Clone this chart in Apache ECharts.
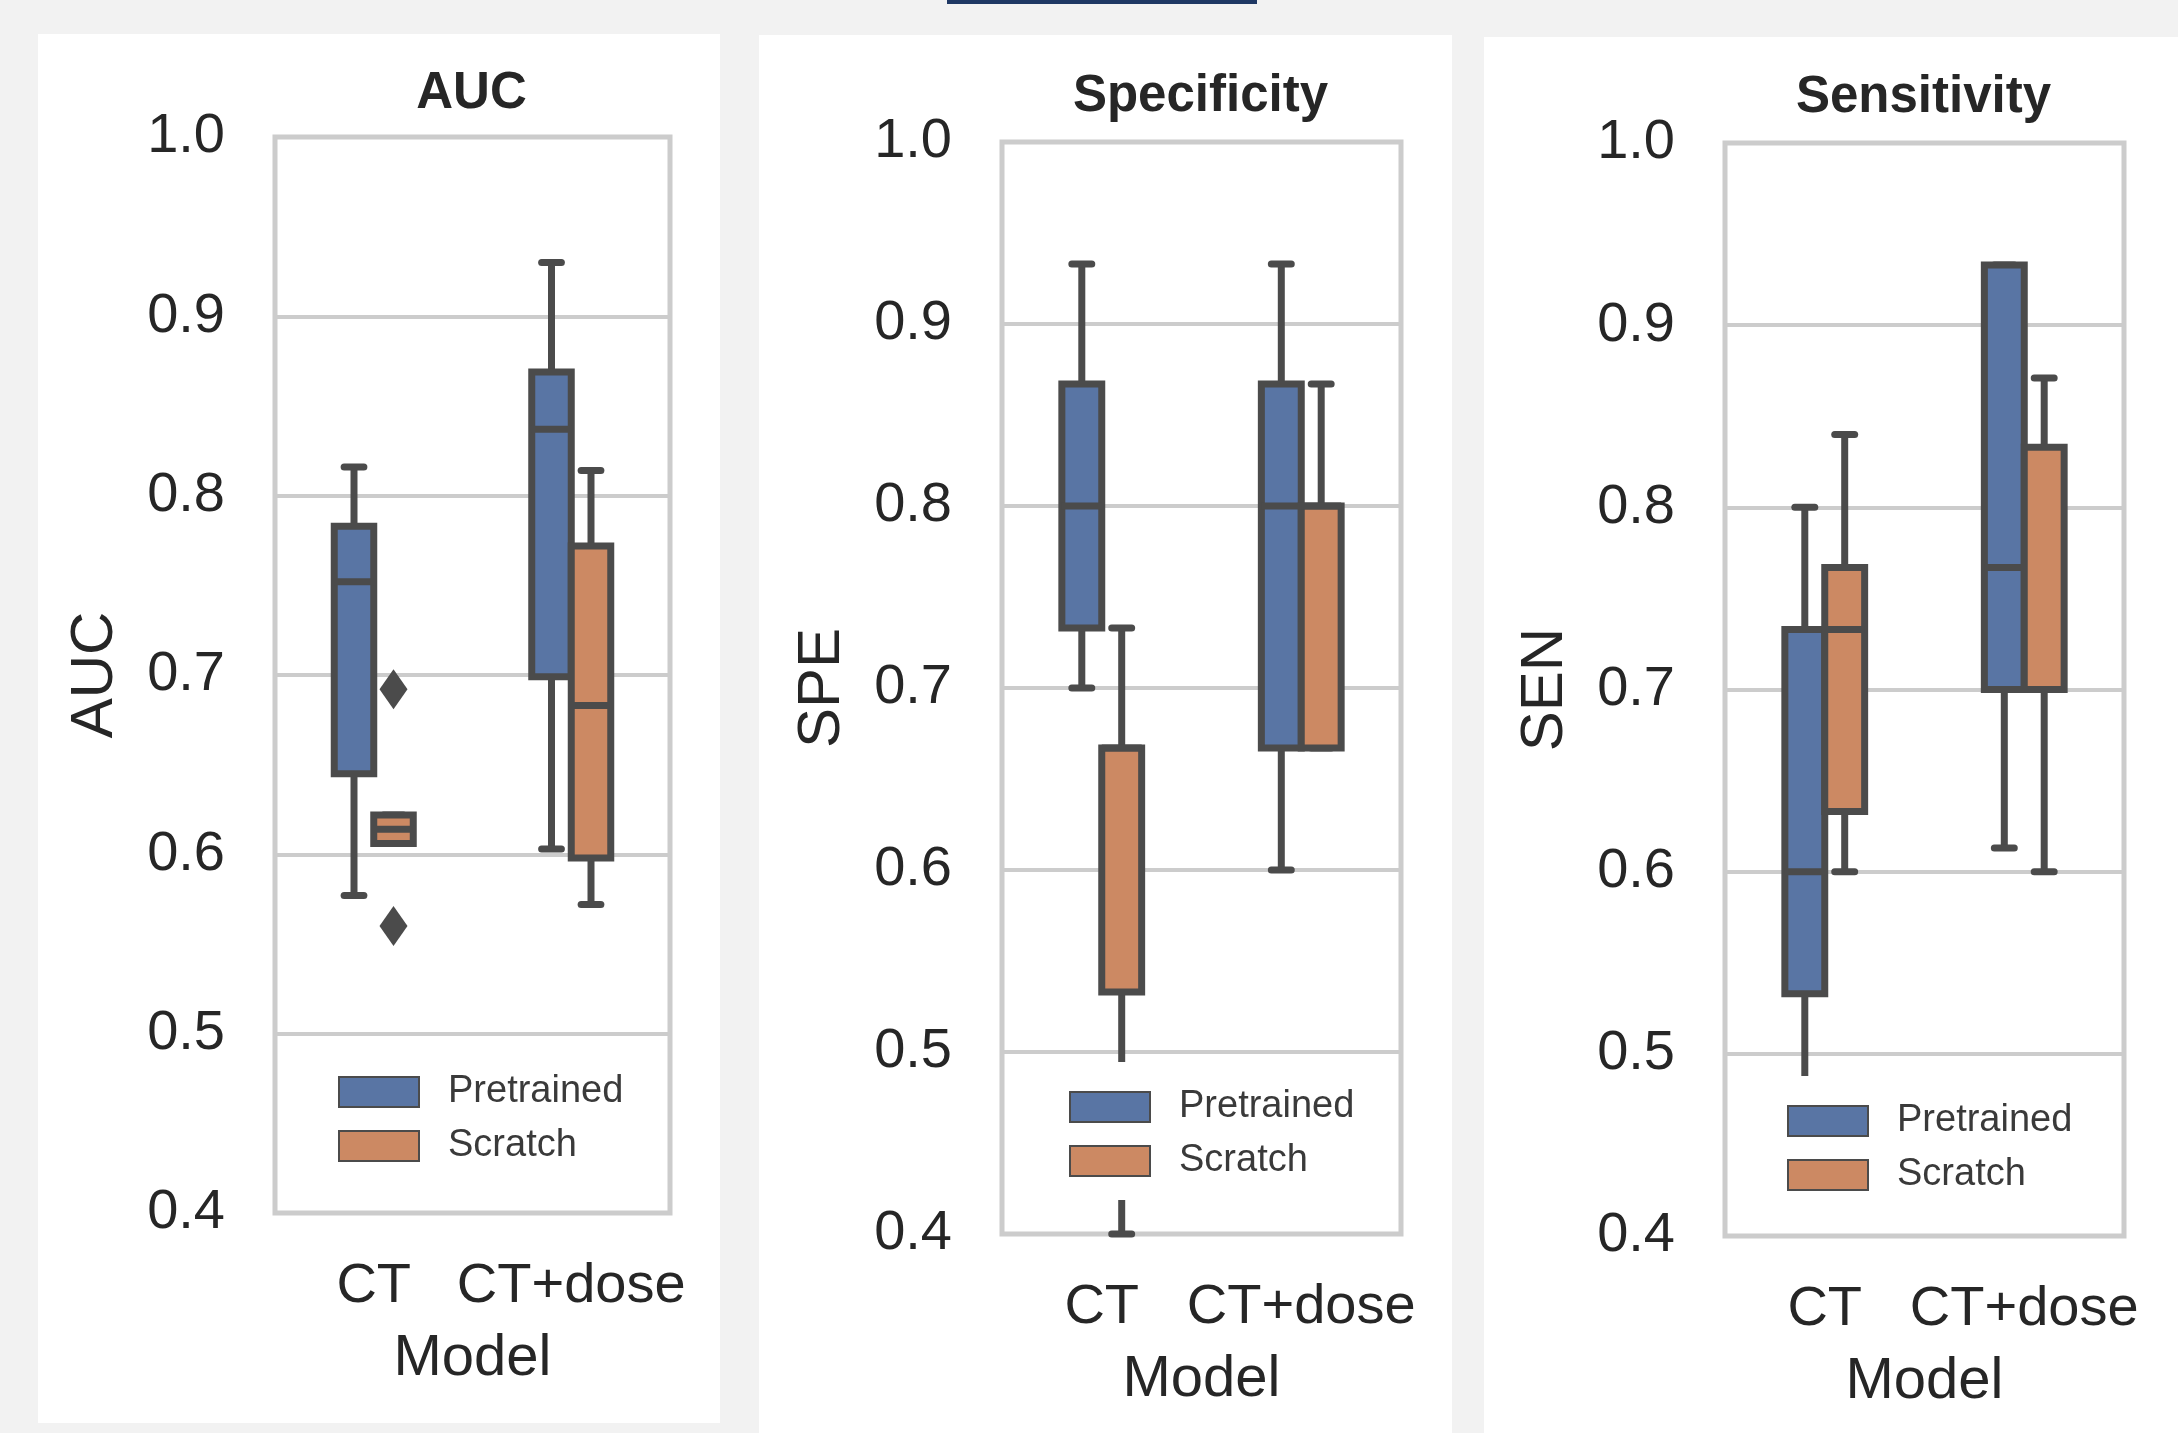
<!DOCTYPE html>
<html>
<head>
<meta charset="utf-8">
<title>Pretrained vs Scratch</title>
<script src="https://cdn.jsdelivr.net/npm/echarts@6/dist/echarts.min.js"></script>
<style>
  html, body { margin: 0; padding: 0; background: #f2f2f2; }
  #chart { width: 2178px; height: 1433px; }
</style>
</head>
<body>
<div id="chart"></div>
<script>
const categories = ['CT', 'CT+dose'];
const seriesNames = ['Pretrained', 'Scratch'];

// one row per category: [low whisker, q1, median, q3, high whisker]
const aucPretrained = [[0.577, 0.645, 0.752, 0.783, 0.816], [0.603, 0.699, 0.837, 0.869, 0.930]];
const aucScratch = [[0.606, 0.606, 0.614, 0.622, 0.622], [0.572, 0.598, 0.683, 0.772, 0.814]];
const aucScratchOutliers = [[0, 0.692], [0, 0.560]]; // [category index, value]

const spePretrained = [[0.700, 0.733, 0.800, 0.867, 0.933], [0.600, 0.667, 0.800, 0.867, 0.933]];
const speScratch = [[0.400, 0.533, 0.667, 0.667, 0.733], [0.667, 0.667, 0.800, 0.800, 0.867]];

const senPretrained = [[0.467, 0.533, 0.600, 0.733, 0.800], [0.613, 0.700, 0.767, 0.933, 0.933]];
const senScratch = [[0.600, 0.633, 0.733, 0.767, 0.840], [0.600, 0.700, 0.700, 0.833, 0.871]];

const yMin = 0.4, yMax = 1.0, yStep = 0.1;

const FONT = '"Liberation Sans", Arial, Helvetica, sans-serif';
const TEXT = '#262626';
const LINE = '#4b4b4b';
const BLUE = '#5975a4';
const ORANGE = '#cc8963';

const panels = [
  { title: 'AUC', yName: 'AUC', grid: [275, 137, 395, 1076], titleTop: 63, legend: [318, 1047],
    card: [38, 34, 682, 1389], pre: aucPretrained, scr: aucScratch, out: aucScratchOutliers },
  { title: 'Specificity', yName: 'SPE', grid: [1002, 142, 399, 1092], titleTop: 66, legend: [1049, 1062],
    card: [759, 35, 693, 1398], pre: spePretrained, scr: speScratch, out: [] },
  { title: 'Sensitivity', yName: 'SEN', grid: [1725, 143, 399, 1093], titleTop: 67, legend: [1767, 1076],
    card: [1484, 37, 694, 1396], pre: senPretrained, scr: senScratch, out: [] }
];

function renderBox(offset, fill) {
  return function (params, api) {
    const cat = api.value(0);
    const band = api.size([1, 0])[0];
    const cx = api.coord([cat, api.value(3)])[0] + band * offset;
    const y = (d) => api.coord([cat, api.value(d)])[1];
    const yLow = y(1), yQ1 = y(2), yMed = y(3), yQ3 = y(4), yHigh = y(5);
    const halfBox = band * 0.1;
    const halfCap = halfBox / 2;
    const stroke = { stroke: LINE, lineWidth: 7 };
    const cap = { stroke: LINE, lineWidth: 7, lineCap: 'round' };
    return {
      type: 'group',
      children: [
        { type: 'line', shape: { x1: cx, y1: yQ1, x2: cx, y2: yLow }, style: stroke },
        { type: 'line', shape: { x1: cx, y1: yQ3, x2: cx, y2: yHigh }, style: stroke },
        { type: 'line', shape: { x1: cx - halfCap, y1: yLow, x2: cx + halfCap, y2: yLow }, style: cap },
        { type: 'line', shape: { x1: cx - halfCap, y1: yHigh, x2: cx + halfCap, y2: yHigh }, style: cap },
        { type: 'rect', shape: { x: cx - halfBox, y: yQ3, width: halfBox * 2, height: yQ1 - yQ3 },
          style: { fill: fill, stroke: LINE, lineWidth: 7 } },
        { type: 'line', shape: { x1: cx - halfBox, y1: yMed, x2: cx + halfBox, y2: yMed }, style: stroke }
      ]
    };
  };
}

function renderOutlier(offset) {
  return function (params, api) {
    const band = api.size([1, 0])[0];
    const p = api.coord([api.value(0), api.value(1)]);
    const cx = p[0] + band * offset, cy = p[1];
    return {
      type: 'polygon',
      shape: { points: [[cx, cy - 20], [cx + 14, cy], [cx, cy + 20], [cx - 14, cy]] },
      style: { fill: LINE }
    };
  };
}

const withIndex = (rows) => rows.map((r, i) => [i].concat(r));

const option = {
  backgroundColor: '#f2f2f2',
  animation: false,
  textStyle: { fontFamily: FONT },
  graphic: [
    { type: 'rect', z: -10, shape: { x: 947, y: 0, width: 310, height: 4 }, style: { fill: '#1f3864' } }
  ].concat(panels.map((p) => ({
    type: 'rect', z: -10,
    shape: { x: p.card[0], y: p.card[1], width: p.card[2], height: p.card[3] },
    style: { fill: '#ffffff' }
  }))),
  title: panels.map((p) => ({
    text: p.title,
    left: p.grid[0] + p.grid[2] / 2 - 6,
    top: p.titleTop,
    textAlign: 'center',
    textStyle: { fontSize: 51, fontWeight: 'bold', color: TEXT, fontFamily: FONT }
  })),
  legend: panels.map((p) => ({
    data: seriesNames,
    orient: 'vertical',
    left: p.legend[0],
    top: p.legend[1],
    icon: 'rect',
    itemWidth: 80,
    itemHeight: 30,
    itemGap: 16,
    padding: [26, 24, 20, 20],
    backgroundColor: '#ffffff',
    selectedMode: false,
    itemStyle: { borderColor: LINE, borderWidth: 2 },
    textStyle: { fontSize: 38, color: '#3a3a3a', padding: [0, 0, 0, 24], fontFamily: FONT }
  })),
  grid: panels.map((p) => ({
    left: p.grid[0], top: p.grid[1], width: p.grid[2], height: p.grid[3],
    show: true, borderColor: '#cccccc', borderWidth: 5, backgroundColor: 'transparent'
  })),
  xAxis: panels.map((p, i) => ({
    type: 'category',
    gridIndex: i,
    data: categories,
    name: 'Model',
    nameLocation: 'middle',
    nameGap: 117,
    nameTextStyle: { fontSize: 58, color: TEXT, fontFamily: FONT },
    axisLine: { show: false },
    axisTick: { show: false },
    splitLine: { show: false },
    axisLabel: { interval: 0, hideOverlap: false, fontSize: 56, color: TEXT, margin: 46, fontFamily: FONT }
  })),
  yAxis: panels.map((p, i) => ({
    type: 'value',
    gridIndex: i,
    min: yMin,
    max: yMax,
    interval: yStep,
    name: p.yName,
    nameLocation: 'middle',
    nameGap: 150,
    nameTextStyle: { fontSize: 60, color: TEXT, fontFamily: FONT },
    axisLine: { show: false },
    axisTick: { show: false },
    splitLine: { show: true, lineStyle: { color: '#cccccc', width: 4 } },
    axisLabel: { fontSize: 56, color: TEXT, margin: 50, fontFamily: FONT, formatter: (v) => v.toFixed(1) }
  })),
  series: []
};

panels.forEach((p, i) => {
  option.series.push({
    name: 'Pretrained', type: 'custom', xAxisIndex: i, yAxisIndex: i,
    itemStyle: { color: BLUE },
    renderItem: renderBox(-0.1, BLUE),
    data: withIndex(p.pre)
  });
  option.series.push({
    name: 'Scratch', type: 'custom', xAxisIndex: i, yAxisIndex: i,
    itemStyle: { color: ORANGE },
    renderItem: renderBox(0.1, ORANGE),
    data: withIndex(p.scr)
  });
  if (p.out.length) {
    option.series.push({
      name: 'outliers', type: 'custom', xAxisIndex: i, yAxisIndex: i,
      renderItem: renderOutlier(0.1),
      data: p.out
    });
  }
});

const chart = echarts.init(document.getElementById('chart'));
chart.setOption(option);
window.addEventListener('resize', () => chart.resize());
</script>
</body>
</html>
